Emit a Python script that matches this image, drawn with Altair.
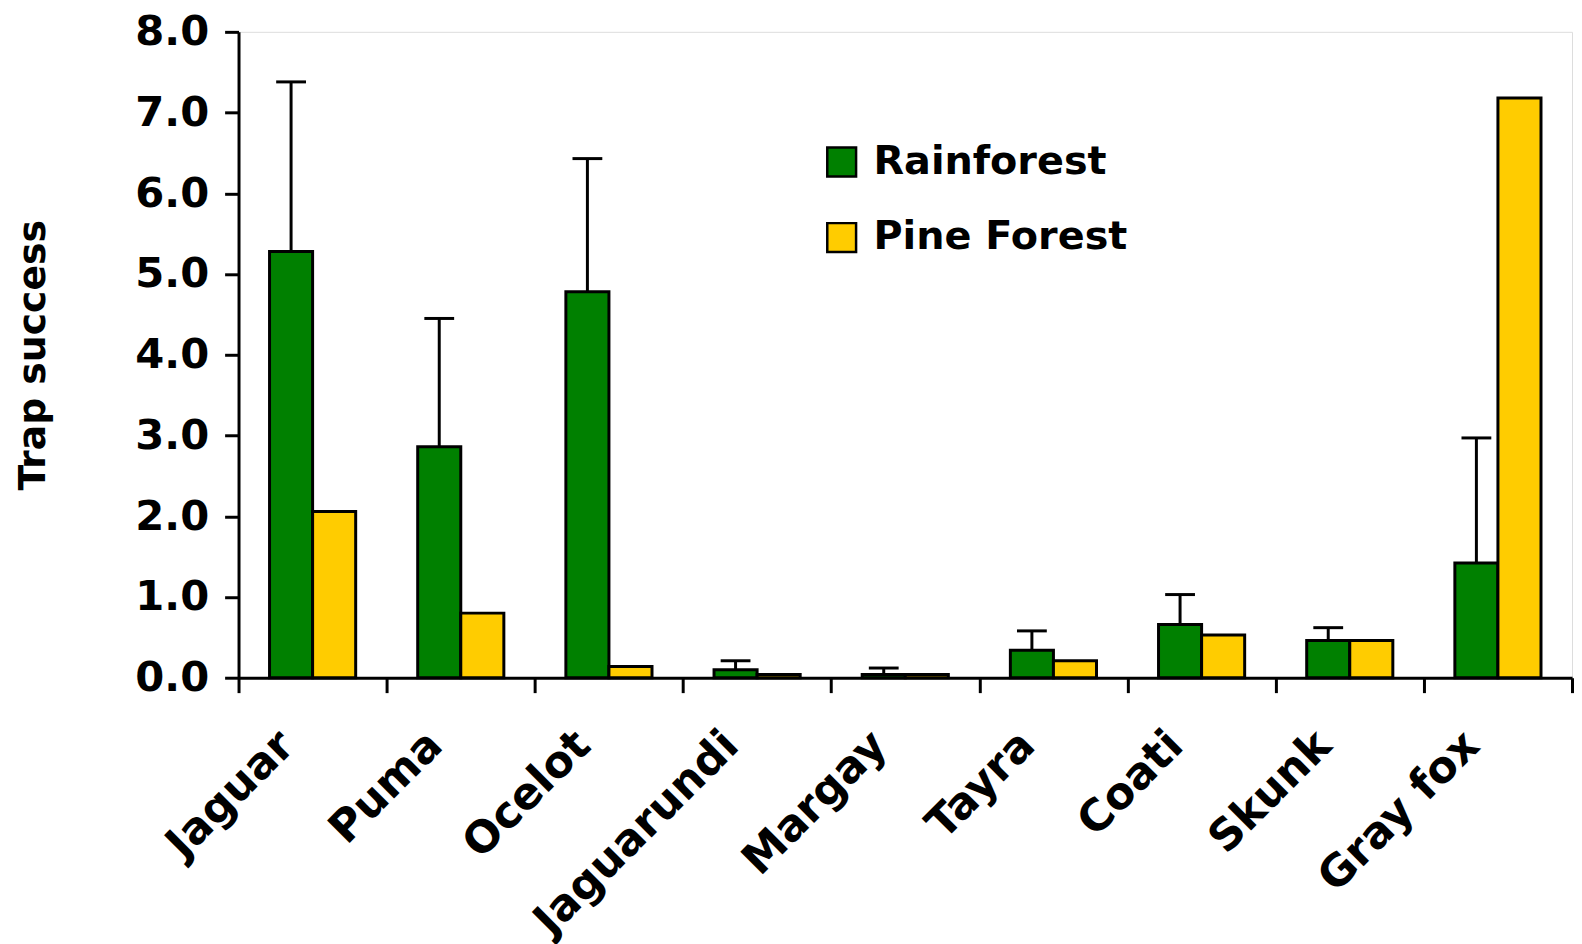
import altair as alt
import pandas as pd

species = ["Jaguar", "Puma", "Ocelot", "Jaguarundi", "Margay", "Tayra", "Coati", "Skunk", "Gray fox"]
rainforest = [5.28, 2.86, 4.78, 0.10, 0.04, 0.34, 0.66, 0.46, 1.42]
rainforest_upper = [7.38, 4.45, 6.43, 0.21, 0.12, 0.58, 1.03, 0.62, 2.97]
pine_forest = [2.06, 0.80, 0.14, 0.04, 0.04, 0.21, 0.53, 0.46, 7.18]
series = ["Rainforest", "Pine Forest"]
colors = ["#008000", "#FFCC00"]

rows = []
for i, s in enumerate(species):
    rows.append({"species": s, "habitat": series[0], "value": rainforest[i]})
    rows.append({"species": s, "habitat": series[1], "value": pine_forest[i]})
bars_df = pd.DataFrame(rows)
err_df = pd.DataFrame({
    "species": species,
    "habitat": [series[0]] * len(species),
    "value": rainforest,
    "upper": rainforest_upper,
})

FONT = "DejaVu Sans"

x_enc = alt.X(
    "species:N",
    sort=species,
    title=None,
    scale=alt.Scale(paddingInner=0, paddingOuter=0),
    axis=alt.Axis(
        labelAngle=-45,
        labelFont=FONT,
        labelFontSize=44,
        labelFontWeight="bold",
        labelColor="black",
        labelPadding=46,
        labelOffset=-26,
        labelLimit=500,
        tickBand="extent",
        tickSize=15,
        tickWidth=3,
        tickColor="black",
        domainWidth=3,
        domainColor="black",
        labelAlign="right",
        labelBaseline="middle",
    ),
)
xo_enc = alt.XOffset(
    "habitat:N",
    sort=series,
    scale=alt.Scale(domain=series, paddingOuter=0.72, paddingInner=0),
)
y_scale = alt.Scale(domain=[0, 8], nice=False)

bars = alt.Chart(bars_df).mark_bar(stroke="black", strokeWidth=3).encode(
    x=x_enc,
    xOffset=xo_enc,
    y=alt.Y(
        "value:Q",
        scale=y_scale,
        title="Trap success",
        axis=alt.Axis(
            values=[0, 1, 2, 3, 4, 5, 6, 7, 8],
            format=".1f",
            grid=False,
            labelFont=FONT,
            labelFontSize=42,
            labelFontWeight="bold",
            labelColor="black",
            labelPadding=16,
            tickSize=14,
            tickWidth=3,
            tickColor="black",
            domainWidth=3,
            domainColor="black",
            titleFont=FONT,
            titleFontSize=38,
            titleFontWeight="bold",
            titleColor="black",
            titlePadding=83,
        ),
    ),
    color=alt.Color(
        "habitat:N",
        sort=series,
        scale=alt.Scale(domain=series, range=colors),
        legend=alt.Legend(
            title=None,
            orient="none",
            legendX=587,
            legendY=111,
            padding=0,
            symbolType="square",
            symbolSize=841,
            symbolStrokeColor="black",
            symbolStrokeWidth=2.5,
            symbolOpacity=1,
            labelFont=FONT,
            labelFontSize=40,
            labelFontWeight="bold",
            labelColor="black",
            labelOffset=12,
            rowPadding=36,
            labelLimit=400,
        ),
    ),
)

rules = alt.Chart(err_df).mark_rule(color="black", strokeWidth=3).encode(
    x=alt.X("species:N", sort=species),
    xOffset=xo_enc,
    y=alt.Y("value:Q", scale=y_scale),
    y2="upper:Q",
)
caps = alt.Chart(err_df).mark_tick(color="black", thickness=3, size=30, opacity=1).encode(
    x=alt.X("species:N", sort=species),
    xOffset=xo_enc,
    y=alt.Y("upper:Q", scale=y_scale),
)

chart = alt.layer(rules, bars, caps).properties(
    width=1342,
    height=650,
    padding={"left": 6, "top": 0, "right": 0, "bottom": 0},
).configure_view(stroke=None).configure(background="white")

chart.save("out.html", embed_options={"renderer": "svg", "actions": False})
